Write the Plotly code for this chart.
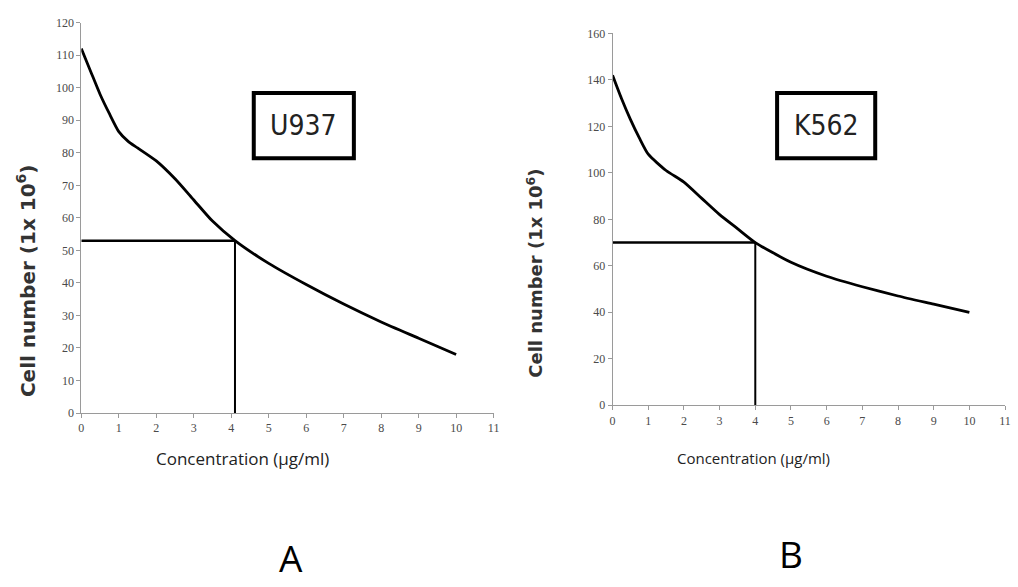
import plotly.graph_objects as go

# Panel A (U937)
conc_a = [0, 0.25, 0.5, 0.75, 1.0, 1.25, 1.5, 2.0, 2.5, 3.0, 3.5, 4.1, 5.0, 6.0, 7.0, 8.0, 9.0, 10.0]
cells_a = [112, 105, 98, 92, 86.5, 83.5, 81.5, 77.5, 72, 65.5, 59, 53, 46, 39.5, 33.5, 28, 23, 18]
ic50_a = (4.1, 53)

# Panel B (K562)
conc_b = [0, 0.25, 0.5, 0.75, 1.0, 1.5, 2.0, 2.5, 3.0, 3.5, 4.0, 5.0, 6.0, 7.0, 8.0, 9.0, 10.0]
cells_b = [142, 132, 123, 115, 108, 101, 96, 89, 82, 76, 70, 61.5, 55.5, 51, 47, 43.5, 40]
ic50_b = (4.0, 70)

x_ticks = list(range(0, 12))
y_ticks_a = list(range(0, 121, 10))
y_ticks_b = list(range(0, 161, 20))

W, H = 1018, 587

fig = go.Figure()

line_style = dict(color="black", width=2.5)

# Panel A traces
fig.add_trace(go.Scatter(x=conc_a, y=cells_a, mode="lines", line=dict(color="black", width=2.8, shape="spline", smoothing=0.6),
                         xaxis="x", yaxis="y", showlegend=False))
fig.add_trace(go.Scatter(x=[0, ic50_a[0]], y=[ic50_a[1], ic50_a[1]], mode="lines", line=line_style,
                         xaxis="x", yaxis="y", showlegend=False))
fig.add_trace(go.Scatter(x=[ic50_a[0], ic50_a[0]], y=[0, ic50_a[1]], mode="lines", line=dict(color="black", width=2),
                         xaxis="x", yaxis="y", showlegend=False))

# Panel B traces
fig.add_trace(go.Scatter(x=conc_b, y=cells_b, mode="lines", line=dict(color="black", width=2.8, shape="spline", smoothing=0.6),
                         xaxis="x2", yaxis="y2", showlegend=False))
fig.add_trace(go.Scatter(x=[0, ic50_b[0]], y=[ic50_b[1], ic50_b[1]], mode="lines", line=line_style,
                         xaxis="x2", yaxis="y2", showlegend=False))
fig.add_trace(go.Scatter(x=[ic50_b[0], ic50_b[0]], y=[0, ic50_b[1]], mode="lines", line=dict(color="black", width=2),
                         xaxis="x2", yaxis="y2", showlegend=False))

tick_font = dict(family="Liberation Serif", size=12, color="#4a4a4a")
axis_common = dict(showline=True, linecolor="#9a9a9a", linewidth=1, ticks="outside", ticklen=4,
                   tickcolor="#9a9a9a", showgrid=False, zeroline=False, tickfont=tick_font)

fig.update_layout(
    width=W, height=H,
    margin=dict(l=0, r=0, t=0, b=0),
    paper_bgcolor="white", plot_bgcolor="white",
    xaxis=dict(domain=[79 / W, 495 / W], range=[0, 11], tickvals=x_ticks, anchor="y", **axis_common),
    yaxis=dict(domain=[1 - 416 / H, 1 - 16 / H], range=[0, 120], tickvals=y_ticks_a, anchor="x", **axis_common),
    xaxis2=dict(domain=[615 / W, 1011 / W], range=[0, 11], tickvals=x_ticks, anchor="y2", **axis_common),
    yaxis2=dict(domain=[1 - 408 / H, 1 - 27 / H], range=[0, 160], tickvals=y_ticks_b, anchor="x2", **axis_common),
)

# Boxes with cell line names
fig.add_shape(type="rect", xref="paper", yref="paper", x0=253 / W, x1=354 / W, y0=1 - 155 / H, y1=1 - 88 / H,
              line=dict(color="black", width=4), fillcolor="white", layer="above")
fig.add_shape(type="rect", xref="paper", yref="paper", x0=781 / W, x1=880 / W, y0=1 - 155 / H, y1=1 - 88 / H,
              line=dict(color="black", width=4), fillcolor="white", layer="above")

narrow = "DejaVu Sans Condensed, Liberation Sans Narrow, Roboto"

def ann_at(text, px, py, size, family, color="#222222", angle=0):
    return dict(text=text, x=px / W, y=1 - py / H, xref="paper", yref="paper", showarrow=False,
                xanchor="center", yanchor="middle", textangle=angle,
                font=dict(family=family, size=size, color=color))

ann = []
ann.append(ann_at("U937", 303.5, 121, 28, narrow))
ann.append(ann_at("K562", 830.5, 121, 28, narrow))

# Axis titles
ytitle = "<b>Cell number (1x 10<sup>6</sup>)</b>"
ann.append(ann_at(ytitle, 24, 280, 20, "DejaVu Sans", "#333333", -90))
ann.append(ann_at(ytitle, 537, 273, 18, "DejaVu Sans", "#333333", -90))
ann.append(ann_at("Concentration (µg/ml)", 242, 463, 17, "Open Sans"))
ann.append(ann_at("Concentration (µg/ml)", 757, 462, 15, "Open Sans"))

# Panel letters
ann.append(ann_at("A", 291, 564, 37, "Open Sans", "black"))
ann.append(ann_at("B", 795, 560, 37, "Open Sans", "black"))

fig.update_layout(annotations=ann)

fig.write_html("out.html", config={"displayModeBar": False},
               post_script="document.body.style.margin='0';document.body.style.overflow='hidden';")
